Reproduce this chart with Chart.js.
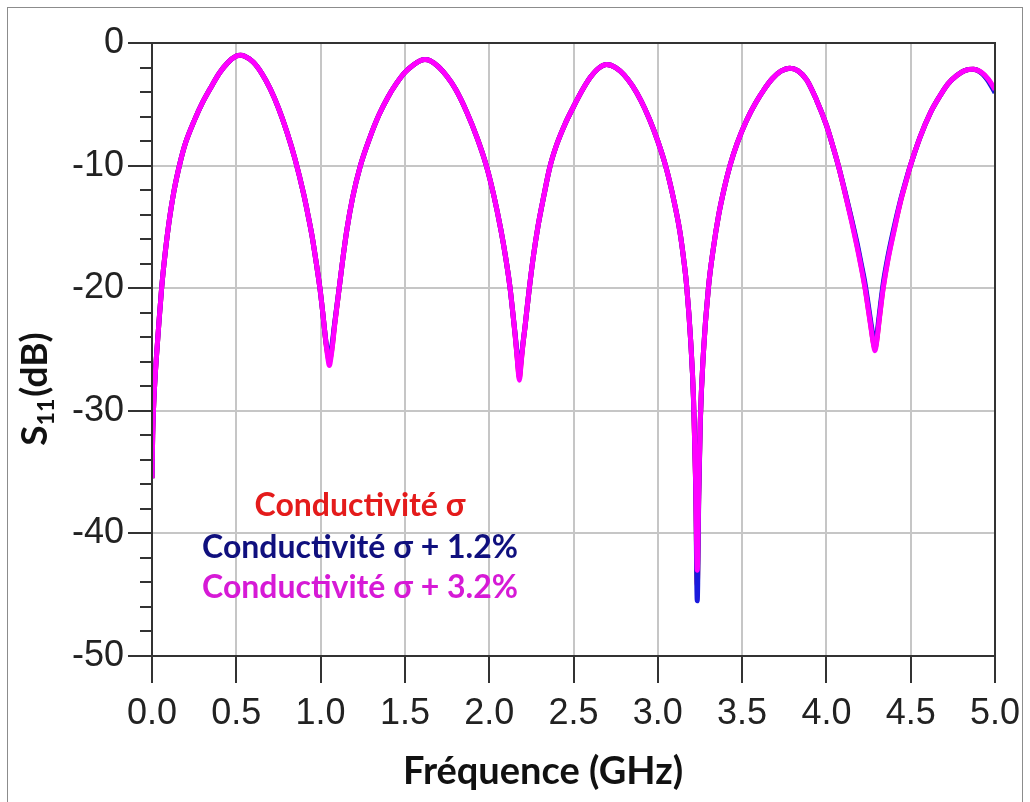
<!DOCTYPE html>
<html>
<head>
<meta charset="utf-8">
<script src="https://cdn.jsdelivr.net/npm/chart.js@4/dist/chart.umd.min.js"></script>
<style>
html,body{margin:0;padding:0;background:#fff;}
canvas{display:block;}
</style>
</head>
<body>
<canvas id="c" width="1030" height="802"></canvas>
<script>
// ---- data ----
const freqGHz = [
  0.000, 0.004, 0.010, 0.020, 0.030, 0.040, 0.057, 0.080, 0.100,
  0.130, 0.166, 0.200, 0.250, 0.300, 0.350, 0.400, 0.450, 0.500,
  0.525, 0.550, 0.600, 0.650, 0.700, 0.750, 0.800, 0.850, 0.900,
  0.925, 0.950, 0.975, 0.996, 1.012, 1.022, 1.032, 1.042, 1.052,
  1.062, 1.072, 1.082, 1.094, 1.111, 1.130, 1.155, 1.190, 1.234,
  1.290, 1.345, 1.400, 1.450, 1.500, 1.550, 1.590, 1.619, 1.650,
  1.700, 1.748, 1.800, 1.866, 1.930, 1.985, 2.030, 2.070, 2.100,
  2.123, 2.140, 2.155, 2.167, 2.179, 2.190, 2.200, 2.212, 2.224,
  2.238, 2.260, 2.290, 2.325, 2.360, 2.400, 2.450, 2.500, 2.550,
  2.600, 2.650, 2.697, 2.750, 2.800, 2.850, 2.900, 2.950, 3.000,
  3.050, 3.090, 3.130, 3.155, 3.171, 3.195, 3.212, 3.225, 3.234,
  3.243, 3.252, 3.270, 3.300, 3.330, 3.360, 3.395, 3.428, 3.470,
  3.527, 3.580, 3.630, 3.680, 3.730, 3.784, 3.830, 3.883, 3.940,
  4.000, 4.040, 4.071, 4.110, 4.150, 4.180, 4.205, 4.229, 4.250,
  4.265, 4.278, 4.288, 4.298, 4.310, 4.322, 4.337, 4.365, 4.397,
  4.440, 4.476, 4.496, 4.555, 4.620, 4.674, 4.720, 4.773, 4.820,
  4.871, 4.920, 4.960, 5.000
];

// Conductivité σ (red, mostly hidden under the other curves)
const s11Sigma = [
  -35.5, -32.0, -29.5, -26.9, -24.9, -23.0, -20.0, -16.9, -14.7,
  -12.1, -9.8, -8.1, -6.35, -4.85, -3.6, -2.45, -1.6, -1.07,
  -1.0, -1.08, -1.55, -2.45, -3.7, -5.3, -7.25, -9.55, -12.35,
  -14.0, -15.8, -18.0, -20.0, -21.9, -23.2, -24.5, -25.4, -26.0,
  -25.4, -24.4, -23.1, -21.8, -19.9, -17.8, -15.3, -12.6, -10.1,
  -7.8, -5.9, -4.4, -3.3, -2.4, -1.8, -1.45, -1.35, -1.45,
  -1.95, -2.7, -3.75, -5.6, -7.8, -10.1, -12.6, -15.3, -17.7,
  -19.9, -22.0, -24.0, -25.8, -27.3, -25.9, -24.6, -23.2, -21.7,
  -20.0, -17.6, -14.9, -12.4, -10.1, -8.3, -6.6, -5.2, -3.9,
  -2.8, -2.05, -1.75, -2.0, -2.6, -3.5, -4.7, -6.2, -8.0,
  -10.2, -12.5, -15.3, -17.8, -19.8, -24.3, -29.1, -36.2, -44.2,
  -36.7, -30.9, -25.4, -20.0, -16.7, -14.1, -11.8, -10.0, -8.2,
  -6.3, -4.9, -3.8, -2.9, -2.3, -2.05, -2.25, -3.0, -4.6,
  -6.7, -8.5, -10.0, -12.2, -14.5, -16.4, -18.1, -19.9, -21.8,
  -23.2, -24.4, -24.9, -24.3, -22.9, -21.5, -19.9, -17.6, -15.5,
  -12.9, -11.1, -10.1, -7.7, -5.6, -4.3, -3.35, -2.65, -2.25,
  -2.15, -2.42, -3.0, -3.9
];

// Conductivité σ + 1.2% (blue)
const s11Sigma12 = [
  -35.5, -32.0, -29.5, -26.9, -24.9, -23.0, -20.0, -16.9, -14.7,
  -12.1, -9.8, -8.1, -6.35, -4.85, -3.6, -2.45, -1.6, -1.07,
  -1.0, -1.08, -1.55, -2.45, -3.7, -5.3, -7.25, -9.55, -12.35,
  -14.0, -15.8, -18.0, -20.0, -21.9, -23.2, -24.4, -25.2, -25.7,
  -25.1, -24.2, -23.0, -21.7, -19.9, -17.8, -15.3, -12.6, -10.1,
  -7.8, -5.9, -4.4, -3.3, -2.4, -1.8, -1.45, -1.35, -1.45,
  -1.95, -2.7, -3.75, -5.6, -7.8, -10.1, -12.6, -15.3, -17.7,
  -19.9, -22.0, -23.9, -25.6, -27.0, -25.7, -24.5, -23.2, -21.7,
  -20.0, -17.6, -14.9, -12.4, -10.1, -8.3, -6.6, -5.2, -3.9,
  -2.8, -2.05, -1.75, -2.0, -2.6, -3.5, -4.7, -6.2, -8.0,
  -10.2, -12.5, -15.3, -17.8, -19.8, -24.3, -29.2, -36.5, -45.5,
  -37.0, -31.0, -25.4, -20.0, -16.7, -14.1, -11.8, -10.0, -8.2,
  -6.3, -4.9, -3.8, -2.9, -2.3, -2.05, -2.25, -3.0, -4.6,
  -6.7, -8.5, -10.0, -12.1, -14.4, -16.2, -17.9, -19.6, -21.5,
  -22.9, -24.0, -24.6, -24.0, -22.6, -21.2, -19.6, -17.4, -15.3,
  -12.8, -11.0, -10.1, -7.7, -5.6, -4.3, -3.35, -2.65, -2.25,
  -2.15, -2.45, -3.1, -4.05
];

// Conductivité σ + 3.2% (magenta, drawn on top)
const s11Sigma32 = [
  -35.5, -32.0, -29.5, -26.9, -24.9, -23.0, -20.0, -16.9, -14.7,
  -12.1, -9.8, -8.1, -6.35, -4.85, -3.6, -2.45, -1.6, -1.07,
  -1.0, -1.08, -1.55, -2.45, -3.7, -5.3, -7.25, -9.55, -12.35,
  -14.0, -15.8, -18.0, -20.0, -21.9, -23.2, -24.5, -25.6, -26.3,
  -25.6, -24.5, -23.2, -21.8, -19.9, -17.8, -15.3, -12.6, -10.1,
  -7.8, -5.9, -4.4, -3.3, -2.4, -1.8, -1.45, -1.35, -1.45,
  -1.95, -2.7, -3.75, -5.6, -7.8, -10.1, -12.6, -15.3, -17.7,
  -19.9, -22.0, -24.0, -25.9, -27.5, -26.0, -24.6, -23.2, -21.7,
  -20.0, -17.6, -14.9, -12.4, -10.1, -8.3, -6.6, -5.2, -3.9,
  -2.8, -2.05, -1.75, -2.0, -2.6, -3.5, -4.7, -6.2, -8.0,
  -10.2, -12.5, -15.3, -17.8, -19.8, -24.3, -29.0, -36.0, -43.0,
  -36.5, -30.8, -25.4, -20.0, -16.7, -14.1, -11.8, -10.0, -8.2,
  -6.3, -4.9, -3.8, -2.9, -2.3, -2.05, -2.25, -3.0, -4.6,
  -6.7, -8.5, -10.0, -12.2, -14.6, -16.5, -18.2, -20.0, -21.9,
  -23.3, -24.5, -25.1, -24.4, -23.0, -21.6, -20.0, -17.7, -15.6,
  -12.9, -11.1, -10.1, -7.7, -5.6, -4.3, -3.35, -2.65, -2.25,
  -2.15, -2.4, -2.95, -3.8
];

const seriesLabels = ['Conductivité σ', 'Conductivité σ + 1.2%', 'Conductivité σ + 3.2%'];
const xTickLabels = ['0.0', '0.5', '1.0', '1.5', '2.0', '2.5', '3.0', '3.5', '4.0', '4.5', '5.0'];
const yTickValues = [0, -10, -20, -30, -40, -50];
const yTickLabels = ['0', '-10', '-20', '-30', '-40', '-50'];
const xTitle = 'Fréquence (GHz)';
const yTitleMain = 'S';
const yTitleSub = '11';
const yTitleTail = '(dB)';

// ---- styles ----
const lineColors = ['#ff0000', '#1a1adc', '#ff00ff'];
const textColors = ['#e41b1b', '#10107e', '#d61ad6'];

function pts(ys) { return freqGHz.map((f, i) => ({ x: f, y: ys[i] })); }

const decor = {
  id: 'decor',
  beforeDraw(chart) {
    const c = chart.ctx;
    c.save();
    c.fillStyle = '#fff';
    c.fillRect(0, 0, chart.width, chart.height);
    c.strokeStyle = '#8c8c8c';
    c.lineWidth = 1;
    c.strokeRect(7.5, 7.5, 1015, 800);
    c.restore();
  },
  afterDraw(chart) {
    const c = chart.ctx;
    const a = chart.chartArea;
    const y = chart.scales.y;
    c.save();
    // frame
    c.strokeStyle = '#333';
    c.lineWidth = 2;
    c.strokeRect(a.left, a.top, a.right - a.left, a.bottom - a.top);
    // minor ticks
    c.beginPath();
    y.ticks.forEach(t => {
      if (t.value % 10 !== 0) {
        const py = Math.round(y.getPixelForValue(t.value));
        c.moveTo(a.left - 12, py);
        c.lineTo(a.left, py);
      }
    });
    c.stroke();
    // legend text inside plot
    c.font = 'bold 32px Lato, "Noto Sans", sans-serif';
    c.textAlign = 'center';
    c.textBaseline = 'alphabetic';
    const baselines = [516, 558, 598];
    chart.data.datasets.forEach((ds, i) => {
      c.fillStyle = textColors[i];
      c.fillText(ds.label, 360, baselines[i]);
    });
    // x title
    c.fillStyle = '#111';
    c.font = 'bold 38px Lato, "Noto Sans", sans-serif';
    c.fillText(xTitle, 543, 784);
    // y title (rotated, with subscript)
    c.translate(47, 389);
    c.rotate(-Math.PI / 2);
    const fMain = 'bold 37px Lato, "Noto Sans", sans-serif';
    const fSub = 'bold 23px Lato, "Noto Sans", sans-serif';
    c.font = fMain; const w1 = c.measureText(yTitleMain).width; const w3 = c.measureText(yTitleTail).width;
    c.font = fSub; const w2 = c.measureText(yTitleSub).width;
    const x0 = -(w1 + w2 + w3 + 2) / 2;
    c.textAlign = 'left';
    c.font = fMain; c.fillText(yTitleMain, x0, 0);
    c.font = fSub; c.fillText(yTitleSub, x0 + w1, 7);
    c.font = fMain; c.fillText(yTitleTail, x0 + w1 + w2 + 2, 0);
    c.restore();
  }
};

new Chart(document.getElementById('c'), {
  type: 'line',
  data: {
    datasets: seriesLabels.map((lab, i) => ({
      label: lab,
      data: pts([s11Sigma, s11Sigma12, s11Sigma32][i]),
      borderColor: lineColors[i],
      backgroundColor: lineColors[i],
      borderWidth: 5,
      pointRadius: 0,
      fill: false,
      cubicInterpolationMode: 'monotone',
      order: 3 - i
    }))
  },
  options: {
    responsive: false,
    animation: false,
    devicePixelRatio: 1,
    layout: { padding: { left: 0, top: 43, right: 35, bottom: 0 } },
    plugins: { legend: { display: false }, tooltip: { enabled: false } },
    scales: {
      x: {
        type: 'linear', min: 0, max: 5,
        ticks: {
          stepSize: 0.5, autoSkip: false, maxRotation: 0, minRotation: 0,
          callback: (v, i) => xTickLabels[i],
          color: '#222', padding: 9,
          font: { family: '"Liberation Sans", Arial, sans-serif', size: 36 }
        },
        grid: { color: '#c6c6c6', lineWidth: 2, tickLength: 27, tickColor: '#333', tickWidth: 2 },
        border: { display: false },
        afterFit: s => { s.height = 146; }
      },
      y: {
        type: 'linear', min: -50, max: 0,
        ticks: {
          stepSize: 2, autoSkip: false,
          callback: v => { const k = yTickValues.indexOf(v); return k >= 0 ? yTickLabels[k] : ''; },
          color: '#222', padding: 4,
          font: { family: '"Liberation Sans", Arial, sans-serif', size: 36 }
        },
        grid: {
          color: ctx => (ctx.tick && ctx.tick.value % 10 === 0) ? '#c6c6c6' : 'rgba(0,0,0,0)',
          lineWidth: 2, tickLength: 24,
          tickColor: ctx => (ctx.tick && ctx.tick.value % 10 === 0) ? '#333' : 'rgba(0,0,0,0)',
          tickWidth: 2
        },
        border: { display: false },
        afterFit: s => { s.width = 152; }
      }
    }
  },
  plugins: [decor]
});
</script>
</body>
</html>
